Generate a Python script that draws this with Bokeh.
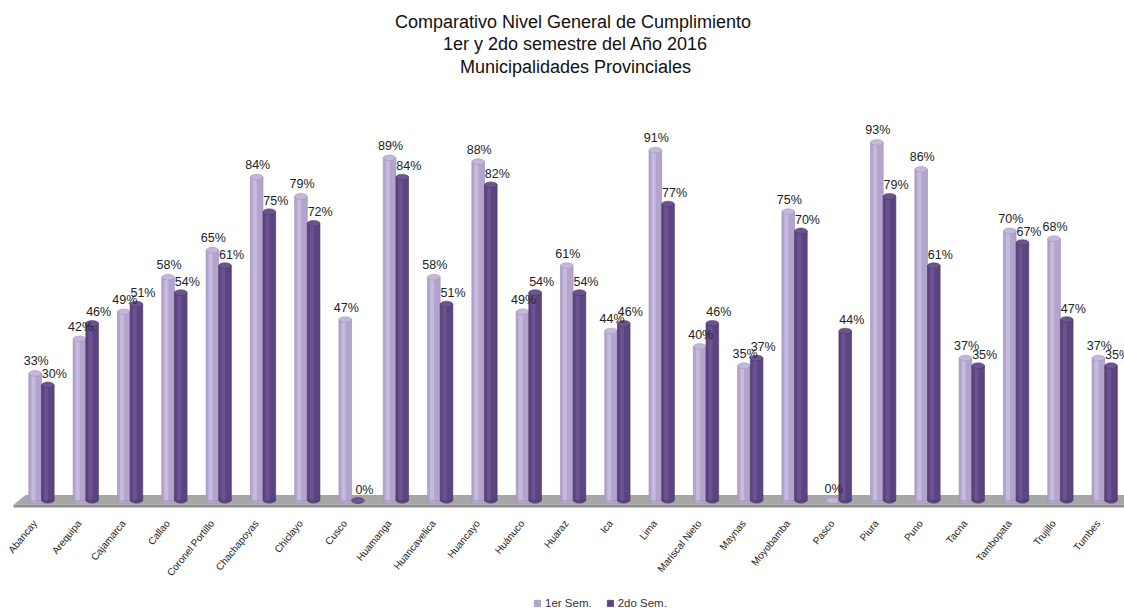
import math
from bokeh.plotting import figure
from bokeh.models import ColumnDataSource, Range1d, Legend, LegendItem
from bokeh.core.properties import value
from bokeh.transform import dodge
from bokeh.embed import file_html
from bokeh.resources import INLINE

categories = ["Abancay", "Arequipa", "Cajamarca", "Callao", "Coronel Portillo",
              "Chachapoyas", "Chiclayo", "Cusco", "Huamanga", "Huancavelica",
              "Huancayo", "Huánuco", "Huaraz", "Ica", "Lima", "Mariscal Nieto",
              "Maynas", "Moyobamba", "Pasco", "Piura", "Puno", "Tacna",
              "Tambopata", "Trujillo", "Tumbes"]
sem1 = [33, 42, 49, 58, 65, 84, 79, 47, 89, 58, 88, 49, 61, 44, 91, 40, 35, 75, 0, 93, 86, 37, 70, 68, 37]
sem2 = [30, 46, 51, 54, 61, 75, 72, 0, 84, 51, 82, 54, 54, 46, 77, 46, 37, 70, 44, 79, 61, 35, 67, 47, 35]
series_names = ["1er Sem.", "2do Sem."]
title_lines = ["Comparativo  Nivel General de Cumplimiento",
               "1er y 2do semestre del Año 2016",
               "Municipalidades Provinciales"]

n = len(categories)
xs = list(range(n))
src = ColumnDataSource(dict(
    x=xs, cat=categories, s1=sem1, s2=sem2,
    l1=[f"{v}%" for v in sem1], l2=[f"{v}%" for v in sem2],
    zero=[0] * n,
))

PX = 44.3      # px per category
PY = 3.85      # px per percent
W, H = 1124, 610
x0 = -41 / PX
y_top = 500 / PY

p = figure(width=W, height=H, output_backend="svg", toolbar_location=None,
           x_range=Range1d(x0, x0 + W / PX), y_range=Range1d(y_top - H / PY, y_top),
           x_axis_location=None, y_axis_location=None, min_border=0)
p.grid.visible = False
p.outline_line_color = None

# floor
fl = -0.63
p.patch(x=[fl, fl + 0.27, n - 1 + 1.2, n - 1 + 1.0], y=[-1.1, 1.4, 1.4, -1.1],
        fill_color="#a7a7a7", line_color=None)
p.patch(x=[fl, n - 1 + 1.0, n - 1 + 1.0, fl], y=[-1.1, -1.1, -1.8, -1.8],
        fill_color="#8e8e8e", line_color=None)

bw = 0.285
off = 0.143
eh = 1.5
styles = [
    ("s1", -off, "#b3a4cd", "#cbc1e0", "#c3b8da", "#9a8ab6"),
    ("s2", off, "#5c4480", "#6e5794", "#6b5490", "#47325f"),
]
main = []
for col, o, body, hi, top, edge in styles:
    p.ellipse(x=dodge("x", o, range=p.x_range), y="zero", width=bw, height=eh,
              source=src, fill_color=body, line_color=None)
    r = p.vbar(x=dodge("x", o, range=p.x_range), top=col, bottom=0, width=bw,
               source=src, fill_color=body, line_color=edge, line_width=0.6)
    p.vbar(x=dodge("x", o - 0.04, range=p.x_range), top=col, bottom=0, width=0.09,
           source=src, fill_color=hi, line_color=None, fill_alpha=0.8)
    p.ellipse(x=dodge("x", o, range=p.x_range), y=col, width=bw, height=eh,
              source=src, fill_color=top, line_color=edge, line_width=0.5)
    main.append(r)

lbl = dict(text_font=value("Liberation Sans"), text_font_size="12.5px",
           text_color="#222222", text_align="center", text_baseline="middle")
p.text(x=dodge("x", -0.12, range=p.x_range), y="s1", text="l1", y_offset=-12, source=src, **lbl)
p.text(x=dodge("x", 0.29, range=p.x_range), y="s2", text="l2", y_offset=-11, source=src, **lbl)

# category labels
p.text(x=dodge("x", -0.15, range=p.x_range), y=(500 - 521) / PY, text="cat", source=src,
       angle=math.radians(51), text_align="right", text_baseline="middle",
       text_font=value("Liberation Sans"), text_font_size="10px", text_color="#222222")

# title
tx = (575 - 41) / PX
for i, t in enumerate(title_lines):
    p.text(x=[tx], y=[(500 - (21 + 22.5 * i)) / PY], text=[t], text_align="center",
           text_baseline="middle",
           text_font=value("Liberation Sans"),
           text_font_size="18px", text_color="#111111")

legend = Legend(items=[LegendItem(label=series_names[0], renderers=[main[0]]),
                       LegendItem(label=series_names[1], renderers=[main[1]])],
                orientation="horizontal", location=(533, 1),
                border_line_color=None, background_fill_alpha=0,
                glyph_width=8, glyph_height=8, label_standoff=4, spacing=14,
                padding=0, margin=0, label_height=12,
                label_text_font="Liberation Sans", label_text_font_size="11.5px",
                label_text_color="#333333")
p.add_layout(legend, "center")

open("out.html", "w").write(file_html(p, INLINE))
